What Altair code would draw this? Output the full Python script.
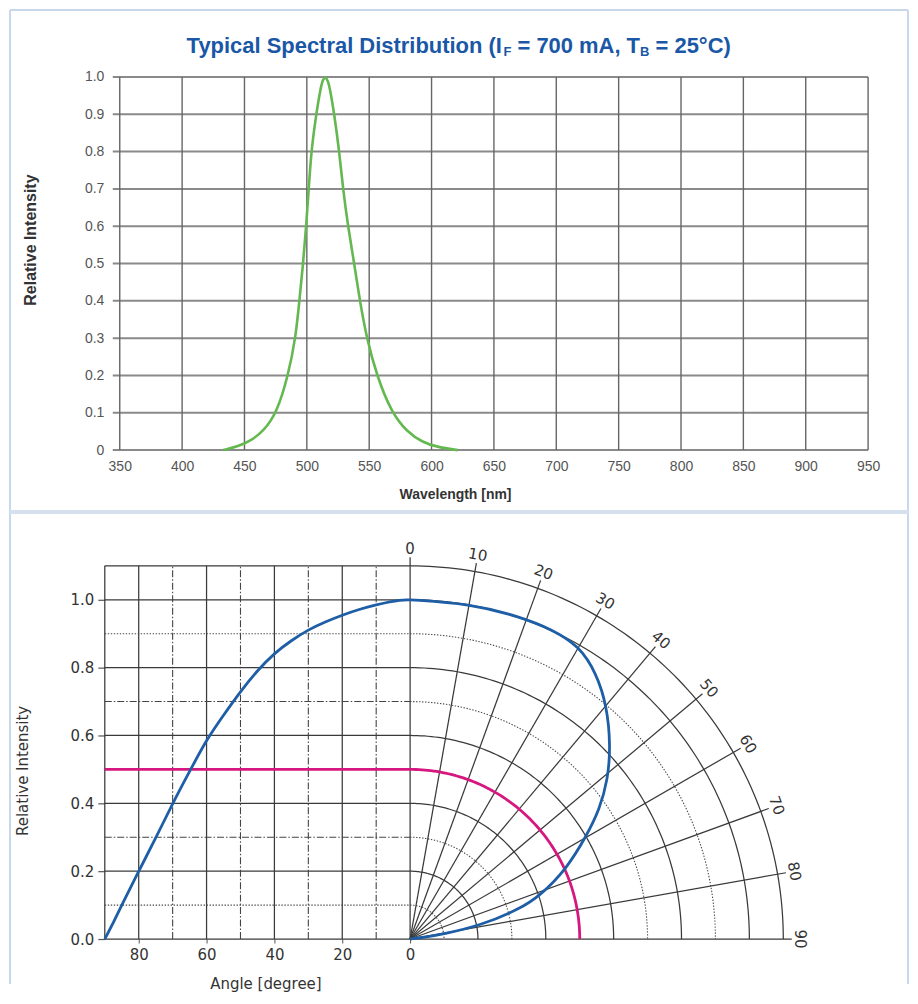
import altair as alt
import pandas as pd
import numpy as np

# ---------------- data ----------------
# Top panel: typical spectral distribution
wavelength_nm = [433, 445, 455, 465, 476, 485, 491, 494, 497, 499.5, 501.5, 503.5,
                 507.5, 511, 513, 515, 517, 519, 522, 526, 529, 533, 538, 542.5, 548, 556,
                 568, 580, 593, 605, 621]
spectral_intensity = [0.0, 0.01, 0.025, 0.05, 0.1, 0.2, 0.3, 0.4, 0.5, 0.6, 0.7, 0.8,
                      0.9, 0.97, 0.995, 1.0, 0.99, 0.96, 0.9, 0.8, 0.7, 0.6, 0.5, 0.4, 0.3, 0.2,
                      0.1, 0.05, 0.02, 0.008, 0.0]
wavelength_ticks = [350, 400, 450, 500, 550, 600, 650, 700, 750, 800, 850, 900, 950]
spectral_y_ticks = [0.0, 0.1, 0.2, 0.3, 0.4, 0.5, 0.6, 0.7, 0.8, 0.9, 1.0]

# Bottom panel: radiation characteristic
cart_angle = [0, 5, 10, 15, 20, 25, 30, 35, 40, 45, 50, 55, 60, 65, 70, 75, 80, 85, 87.5, 90]
cart_intensity = [1.0, 0.997, 0.985, 0.972, 0.955, 0.935, 0.912, 0.88, 0.843, 0.792, 0.73,
                  0.66, 0.588, 0.494, 0.4, 0.297, 0.2, 0.1, 0.047, 0.0]
polar_angle = [0, 10, 18.8, 24.7, 30, 35, 40.2, 46.1, 51.1, 55.6, 59.7, 65.9, 71.6, 74.7,
               79.2, 81.5, 83, 84]
polar_intensity = [1.0, 1.004, 1.004, 1.004, 0.997, 0.957, 0.899, 0.82, 0.749, 0.677, 0.602,
                   0.505, 0.403, 0.335, 0.21, 0.1, 0.047, 0.0]
half_level = 0.5
angle_grid = [0, 10, 20, 30, 40, 50, 60, 70, 80, 90]
radius_grid = [0.1, 0.2, 0.3, 0.4, 0.5, 0.6, 0.7, 0.8, 0.9, 1.0, 1.1]
cart_h_styles = ["dot", "solid", "dashdot", "solid", "dot", "solid", "dashdot", "solid",
                 "dot", "solid", "solid"]
polar_arc_styles = ["dot", "solid", "dot", "solid", "dot", "solid", "dot", "solid",
                    "dot", "solid", "solid"]
cart_vertical_angles = [90, 80, 70, 60, 50, 40, 30, 20, 10]
cart_vertical_styles = ["solid", "solid", "dashdot", "solid", "dashdot", "solid", "dashdot",
                        "solid", "dashdot"]
angle_axis_values = [-0.8, -0.6, -0.4, -0.2, 0.0]
intensity_axis_values = [0.0, 0.2, 0.4, 0.6, 0.8, 1.0]

FT = "Liberation Sans"
FB = "DejaVu Sans"
DEG = np.pi / 180.0

# ---------------- top panel ----------------
W1, H1 = 765, 374
tx = alt.Scale(domain=[338, 950], nice=False, zero=False)
ty = alt.Scale(domain=[0, 1], nice=False, zero=False)

x_axis_top = alt.Axis(values=wavelength_ticks, grid=False, domain=False, ticks=False, tickSize=0,
                      labelFont=FT, labelFontSize=14, labelColor="#555555", labelPadding=9,
                      labelFlush=False, labelOverlap=False,
                      title="Wavelength [nm]", titleFont=FT, titleFontSize=14,
                      titleFontWeight="bold", titleColor="#333333", titleX=351, titleY=44,
                      titleAlign="center", titleBaseline="middle")
y_axis_top = alt.Axis(values=spectral_y_ticks, grid=False, domain=False, ticks=False, tickSize=0,
                      labelExpr="datum.value == 0 ? '0' : format(datum.value, '.1f')",
                      labelFont=FT, labelFontSize=14, labelColor="#555555", labelPadding=1,
                      labelFlush=False, labelOverlap=False,
                      title="Relative Intensity", titleFont=FT, titleFontSize=16,
                      titleFontWeight="bold", titleColor="#333333", titleX=-74, titleY=163,
                      titleAlign="center", titleBaseline="middle")

hgrid_df = pd.DataFrame({"I": spectral_y_ticks})
vgrid_df = pd.DataFrame({"wl": wavelength_ticks})
spec_df = pd.DataFrame({"wl": wavelength_nm, "I": spectral_intensity})
one = pd.DataFrame({"a": [0]})

hgrid = alt.Chart(hgrid_df).mark_rule(color="#8a8a8a", strokeWidth=2).encode(
    y=alt.Y("I:Q", scale=ty, axis=y_axis_top), x=alt.value(8), x2=alt.value(W1))
vgrid = alt.Chart(vgrid_df).mark_rule(color="#666666", strokeWidth=1.4).encode(
    x=alt.X("wl:Q", scale=tx, axis=x_axis_top), y=alt.value(0), y2=alt.value(H1))
spec = alt.Chart(spec_df).mark_line(color="#63b84f", strokeWidth=2.6, interpolate="basis").encode(
    x=alt.X("wl:Q", scale=tx, axis=x_axis_top), y=alt.Y("I:Q", scale=ty, axis=y_axis_top))

TITLE_C = "#1a57a6"
title_parts = [
    ("Typical Spectral Distribution (I", 82, -24, 22),
    ("F", 399.6, -21, 13),
    ("= 700 mA, T", 413.6, -24, 22),
    ("B", 536.5, -21, 13),
    ("= 25°C)", 552, -24, 22),
]
title_layers = [
    alt.Chart(one).mark_text(text=t, font=FT, fontSize=s, fontWeight="bold", color=TITLE_C,
                             align="left", baseline="alphabetic").encode(x=alt.value(xp), y=alt.value(yp))
    for (t, xp, yp, s) in title_parts
]

FRAME_C = "#c9d8e8"
frame = [
    alt.Chart(one).mark_rule(color=FRAME_C, strokeWidth=2).encode(
        x=alt.value(-95), x2=alt.value(805), y=alt.value(-67)),
    alt.Chart(one).mark_rule(color=FRAME_C, strokeWidth=2).encode(
        x=alt.value(-95), y=alt.value(-67), y2=alt.value(909)),
    alt.Chart(one).mark_rule(color=FRAME_C, strokeWidth=2).encode(
        x=alt.value(805), y=alt.value(-67), y2=alt.value(909)),
    alt.Chart(one).mark_rule(color="#d5e1ee", strokeWidth=4).encode(
        x=alt.value(-95), x2=alt.value(805), y=alt.value(436)),
]

top = alt.layer(hgrid, vgrid, spec, *title_layers, *frame).properties(width=W1, height=H1)

# ---------------- bottom panel ----------------
W2, H2 = 680, 374
bx = alt.Scale(domain=[-0.9, 1.1], nice=False, zero=False)
by = alt.Scale(domain=[0, 1.1], nice=False, zero=False)

x_axis_bot = alt.Axis(values=angle_axis_values, grid=False, domain=False, ticks=True, tickSize=4,
                      tickColor="#555555", labelExpr="'' + round(abs(datum.value) * 100)",
                      labelFont=FB, labelFontSize=15, labelColor="#333333", labelPadding=5,
                      labelFlush=False, labelOverlap=False,
                      title="Angle [degree]", titleFont=FB, titleFontSize=15, titleFontWeight="normal",
                      titleColor="#333333", titleX=161, titleY=45, titleAlign="center",
                      titleBaseline="middle")
y_axis_bot = alt.Axis(values=intensity_axis_values, grid=False, domain=False, ticks=True, tickSize=7,
                      tickColor="#555555", tickWidth=1.2, format=".1f",
                      labelFont=FB, labelFontSize=15, labelColor="#333333", labelPadding=4,
                      labelFlush=False, labelOverlap=False,
                      title="Relative Intensity", titleFont=FB, titleFontSize=15,
                      titleFontWeight="normal", titleColor="#333333", titleX=-82, titleY=205,
                      titleAlign="center", titleBaseline="middle")


def X(f="u"):
    return alt.X(f"{f}:Q", scale=bx, axis=x_axis_bot)


def Y(f="v"):
    return alt.Y(f"{f}:Q", scale=by, axis=y_axis_bot)


def arc_points(r):
    return [(r * np.sin(t * DEG), r * np.cos(t * DEG)) for t in range(0, 91)]


rows = []
for r, st_c, st_p in zip(radius_grid, cart_h_styles, polar_arc_styles):
    for k, (u, v) in enumerate([(-0.9, r), (0.0, r)]):
        rows.append({"rid": f"c{r}", "style": st_c, "k": k, "u": u, "v": v})
    for k, (u, v) in enumerate(arc_points(r)):
        rows.append({"rid": f"p{r}", "style": st_p, "k": k, "u": u, "v": v})
for k, (u, v) in enumerate([(-0.9, 0.0), (0.0, 0.0)]):
    rows.append({"rid": "c0", "style": "solid", "k": k, "u": u, "v": v})
arc_df = pd.DataFrame(rows)

vert_df = pd.DataFrame({"u": [-a / 100.0 for a in cart_vertical_angles],
                        "v": 0.0, "v2": 1.1, "style": cart_vertical_styles})
rad_df = pd.DataFrame({"u": 0.0, "v": 0.0,
                       "u2": [1.125 * np.sin(a * DEG) for a in angle_grid],
                       "v2": [1.125 * np.cos(a * DEG) for a in angle_grid]})

STY = {
    "solid": dict(color="#3a3a3a", strokeWidth=1.25),
    "dashdot": dict(color="#444444", strokeWidth=1.1, strokeDash=[7, 2, 1.5, 2]),
    "dot": dict(color="#4a4a4a", strokeWidth=1.1, strokeDash=[1.4, 1.6]),
}

grid_layers = []
for st, kw in STY.items():
    sub = arc_df[arc_df["style"] == st]
    grid_layers.append(alt.Chart(sub).mark_line(**kw).encode(
        x=X(), y=Y(), detail="rid:N", order="k:Q"))
    vs = vert_df[vert_df["style"] == st]
    if len(vs):
        grid_layers.append(alt.Chart(vs).mark_rule(**kw).encode(
            x=X(), y=Y(), y2=alt.Y2("v2:Q")))
grid_layers.append(alt.Chart(rad_df).mark_rule(**STY["solid"]).encode(
    x=X(), y=Y(), x2=alt.X2("u2:Q"), y2=alt.Y2("v2:Q")))

# magenta half-intensity reference
mag_pts = [(-0.9, half_level)] + arc_points(half_level)
mag_df = pd.DataFrame({"k": list(range(len(mag_pts))), "u": [p[0] for p in mag_pts],
                       "v": [p[1] for p in mag_pts]})
magenta = alt.Chart(mag_df).mark_line(color="#d6177f", strokeWidth=2.8).encode(
    x=X(), y=Y(), order="k:Q")

# blue curves
cart_df = pd.DataFrame({"u": [-a / 100.0 for a in cart_angle], "v": cart_intensity})
blue_cart = alt.Chart(cart_df).mark_line(color="#1d5ea6", strokeWidth=2.8, interpolate="basis").encode(
    x=X(), y=Y(), order="u:Q")
pol_df = pd.DataFrame({"k": list(range(len(polar_angle))),
                       "u": [r * np.sin(a * DEG) for a, r in zip(polar_angle, polar_intensity)],
                       "v": [r * np.cos(a * DEG) for a, r in zip(polar_angle, polar_intensity)]})
blue_pol = alt.Chart(pol_df).mark_line(color="#1d5ea6", strokeWidth=2.8, interpolate="basis").encode(
    x=X(), y=Y(), order="k:Q")

# angle labels around the polar half
lab_df = pd.DataFrame({"t": angle_grid,
                       "txt": [str(a) for a in angle_grid],
                       "u": [1.15 * np.sin(a * DEG) for a in angle_grid],
                       "v": [1.15 * np.cos(a * DEG) for a in angle_grid]})
angle_labels = alt.Chart(lab_df).mark_text(font=FB, fontSize=15, color="#333333",
                                           align="center", baseline="middle").encode(
    x=X(), y=Y(), text="txt:N", angle=alt.Angle("t:Q", scale=None))

bottom = alt.layer(*grid_layers, magenta, blue_cart, blue_pol, angle_labels).properties(
    width=W2, height=H2)

chart = alt.vconcat(top, bottom, spacing=116, bounds="flush").properties(
    padding=0, background="white").configure_view(stroke=None)

chart.save("out.html", embed_options={"renderer": "svg", "actions": False})
